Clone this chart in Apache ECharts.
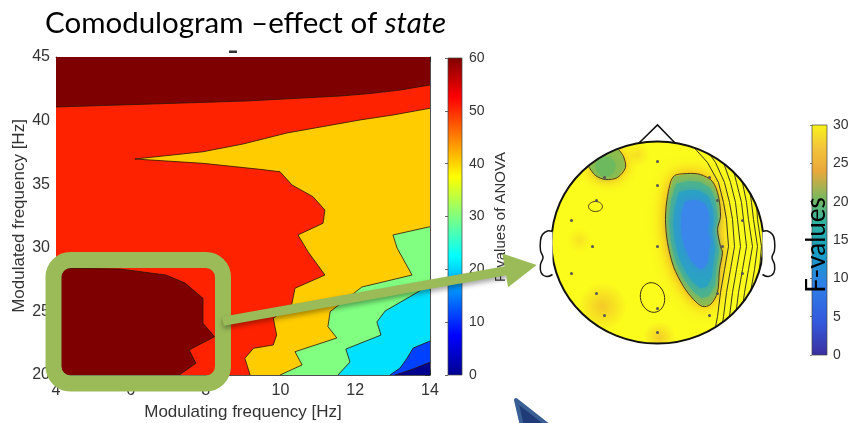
<!DOCTYPE html>
<html>
<head>
<meta charset="utf-8">
<script src="https://cdn.jsdelivr.net/npm/echarts@6/dist/echarts.min.js"></script>
<style>
html,body{margin:0;padding:0;background:#fff;}
#c{width:851px;height:423px;}
</style>
</head>
<body>
<div id="c"></div>
<script>
// ---- Comodulogram: contour boundaries, [modulating Hz, modulated Hz] ----
const xRange = [4, 14];
const yRange = [20, 45];
const f55Edge = [[4,41.07],[9.08,41.54],[11.59,41.93],[12.4,42.13],[13.2,42.4],[14,42.8]];
const f45Edge = [[14,40.97],[13.01,40.44],[12.13,40.05],[10.18,39.03],[9.0,38.16],[7.93,37.55],[6.11,36.98],
  [7.93,36.64],[9.45,36.17],[9.99,35.98],[10.31,34.94],[10.87,34.02],[11.19,32.97],[11.14,31.93],[10.47,31.01],
  [10.74,29.69],[11.19,27.86],[10.39,26.82],[10.3,25.5],[9.81,24.46],[9.9,23.14],[9.81,22.36],[9.28,22.1],
  [9.05,21.31],[9.19,20]];
const f35Edge = [[14,31.66],[13.01,31.01],[13.12,29.98],[13.52,27.86],[12.18,26.92],[11.33,24.98],[11.27,23.8],
  [11.51,22.91],[10.39,21.83],[10.58,20.79],[9.99,20]];
const f25Edge = [[14,27.23],[13.68,26.53],[12.8,25.03],[12.58,24.17],[12.69,23.14],[11.75,22.04],[11.86,21.02],[11.54,20]];
const f15Edge = [[14,22.67],[13.55,22.12],[13.39,21.34],[13.2,20.55],[12.93,20]];
const f5Edge = [[14,21.0],[13.47,20.39],[13.06,20]];
const f55LowEdge = [[4,28.41],[5.71,28.33],[6.94,27.86],[7.45,27.23],[7.93,26.03],[7.93,24.06],[8.24,23.01],
  [7.56,21.97],[7.74,20.92],[7.29,20]];

// colour-bar ranges
const anovaRange = [0, 60, 10];
const fRange = [0, 30, 5];

// ---- Topography: positions in pixels from the head centre (y downwards) ----
const headR = [106, 101];
const electrodes = [[0,-81],[-53,-65],[52,-65],[0,-57],[-61,-42],[60,-42],[-86,-22],[85,-22],[-65,4],[0,4],[65,4],
  [-86,31],[85,31],[-61,51],[60,51],[-53,73],[0,66],[52,73],[0,90]];
const blueBlob = [[16,-66],[30,-69],[43,-68],[55,-61],[61,-46],[63,-26],[60,-13],[63,4],[65,10],[62,27],[60,50],
  [53,62],[45,64],[36,57],[26,44],[16,24],[10,0],[8,-23],[10,-46]];
const greenBlob = [[-69,-76],[-62,-67],[-52,-63],[-40,-65],[-32,-75],[-34,-86],[-39,-93]];
const greenBlobEdge = [[-47,-90],[-55,-86],[-62,-81]];
const lineRows = [-100,-80,-60,-40,-23,4,27,50,74,95];
const isoLines = [
  [32,50,61,66,69,71,67,63,60,56],
  [44,58,67,72,75,77,73,69,66,63],
  [56,66,73,78,80,83,79,75,72,70],
  [68,74,79,84,86,89,85,81,78,77],
  [80,82,85,89,91,95,91,87,84,84],
  [92,90,91,94,96,100,97,93,90,91],
  [104,98,97,99,100,104,102,99,96,98]
];
const leftEar = [[-105,-11],[-110,-11.5],[-115,-8],[-117,-2],[-117,8],[-114.5,15],[-117,22],[-116.5,30],[-111,34],[-105,32]];
const nose = [[-19,-99],[0,-117.5],[18,-99]];

const LABEL_FONT = '"Liberation Sans", Arial, Helvetica, sans-serif';
const SLIDE_FONT = 'Lato, "Open Sans", sans-serif';
const AX = '#262626';

// filled contour bands, painted from low to high
const [X0, X1] = xRange, [Y0, Y1] = yRange;
const upperLeft = [[X0,Y0],[X0,Y1],[X1,Y1]];
const bands = [
  {color:'#00008f', pts:[[X0,Y0],[X1,Y0],[X1,Y1],[X0,Y1]]},
  {color:'#0040ff', pts:f5Edge.concat(upperLeft)},
  {color:'#00e0ff', pts:f15Edge.concat(upperLeft)},
  {color:'#80ff80', pts:f25Edge.concat(upperLeft)},
  {color:'#ffcc00', pts:f35Edge.concat(upperLeft)},
  {color:'#ff2200', pts:f45Edge.concat(upperLeft)},
  {color:'#7f0000', pts:f55Edge.concat([[X1,Y1],[X0,Y1]])},
  {color:'#7f0000', pts:f55LowEdge.concat([[X0,Y0]])}
];
const edges = [f5Edge, f15Edge, f25Edge, f35Edge, f45Edge, f55Edge, f55LowEdge];

function insideHead(p){ return (p[0]/headR[0])**2 + (p[1]/headR[1])**2 <= 1; }
function clipToHead(line){
  const parts = []; let cur = [];
  for (let i = 0; i < line.length; i++) {
    const p = line[i], inP = insideHead(p);
    if (i > 0) {
      const q = line[i-1], inQ = insideHead(q);
      if (inP !== inQ) {
        let a = q, b = p;
        for (let k = 0; k < 30; k++) {
          const m = [(a[0]+b[0])/2, (a[1]+b[1])/2];
          if (insideHead(m) === inQ) a = m; else b = m;
        }
        const x = [(a[0]+b[0])/2, (a[1]+b[1])/2];
        if (inQ) { cur.push(x); if (cur.length > 1) parts.push(cur); cur = []; }
        else cur = [x];
      }
    }
    if (inP) cur.push(p);
  }
  if (cur.length > 1) parts.push(cur);
  return parts;
}
function shrink(pts, c, k){ return pts.map(p => [c[0]+(p[0]-c[0])*k, c[1]+(p[1]-c[1])*k]); }
function radial(color, a){
  return {type:'radial', x:0.5, y:0.5, r:0.5, colorStops:[
    {offset:0, color:'rgba(' + color + ',' + a + ')'},
    {offset:1, color:'rgba(' + color + ',0)'}]};
}

function renderHead(params, api){
  const P = p => api.coord(p);
  const Ps = arr => arr.map(P);
  const c = P([0,0]);
  const kids = [];
  kids.push({type:'ellipse', shape:{cx:c[0], cy:c[1], rx:headR[0], ry:headR[1]}, style:{fill:'#fbfb1c'}});
  // soft orange patches
  [[[-55,64],24,0.55],[[2,95],16,0.5],[[-78,-2],12,0.25],[[-20,-88],12,0.3]].forEach(h => {
    const q = P(h[0]);
    kids.push({type:'circle', shape:{cx:q[0], cy:q[1], r:h[1]}, style:{fill:radial('238,160,50', h[2])}});
  });
  // frontal green spot
  kids.push({type:'polygon', shape:{points:Ps(greenBlob.concat(greenBlobEdge))},
    style:{fill:'#8fbd4c', shadowBlur:14, shadowColor:'rgba(240,140,35,0.95)'}});
  const g = P([-52,-76]);
  kids.push({type:'circle', shape:{cx:g[0], cy:g[1], r:10}, style:{fill:'#6cb95e', shadowBlur:10, shadowColor:'#6cb95e'}});
  // central low-F region
  const bc = [38,-6];
  kids.push({type:'polygon', shape:{points:Ps(blueBlob)},
    style:{fill:'#8cbb52', shadowBlur:16, shadowColor:'rgba(240,140,35,1)'}});
  kids.push({type:'polygon', shape:{points:Ps(shrink(blueBlob, bc, 0.88))},
    style:{fill:'#4db38c', shadowBlur:6, shadowColor:'#4db38c'}});
  kids.push({type:'polygon', shape:{points:Ps(shrink(blueBlob, bc, 0.74))},
    style:{fill:'#2aa2c2', shadowBlur:8, shadowColor:'#2aa2c2'}});
  kids.push({type:'polygon', shape:{points:Ps(shrink(blueBlob, [40,-14], 0.52))},
    style:{fill:'#3a86ea', shadowBlur:12, shadowColor:'#3a86ea'}});
  // white ring hides any glow outside the scalp
  kids.push({type:'ellipse', shape:{cx:c[0], cy:c[1], rx:headR[0]+7, ry:headR[1]+7},
    style:{fill:'none', stroke:'#fff', lineWidth:14}});
  // contour lines
  const line = {fill:'none', stroke:'#3a2a18', lineWidth:0.9};
  kids.push({type:'polygon', shape:{points:Ps(blueBlob), smooth:0.3}, style:line});
  kids.push({type:'polyline', shape:{points:Ps(greenBlob), smooth:0.3}, style:line});
  const e1 = P([-62,-36]), e2 = P([-5,55]);
  kids.push({type:'ellipse', shape:{cx:e1[0], cy:e1[1], rx:7, ry:5}, style:line});
  kids.push({type:'ellipse', shape:{cx:e2[0], cy:e2[1], rx:12, ry:15}, rotation:0.25, originX:e2[0], originY:e2[1], style:line});
  isoLines.forEach(xs => {
    clipToHead(xs.map((x, j) => [x, lineRows[j]])).forEach(seg => {
      kids.push({type:'polyline', shape:{points:Ps(seg)}, style:{fill:'none', stroke:'#222', lineWidth:0.9}});
    });
  });
  // outline, nose and ears
  kids.push({type:'ellipse', shape:{cx:c[0], cy:c[1], rx:headR[0], ry:headR[1]}, style:{fill:'none', stroke:'#111', lineWidth:2}});
  kids.push({type:'polyline', shape:{points:Ps(nose)}, style:{fill:'none', stroke:'#111', lineWidth:1.6}});
  kids.push({type:'polyline', shape:{points:Ps(leftEar), smooth:0.4}, style:{fill:'#fff', stroke:'#111', lineWidth:1.5}});
  kids.push({type:'polyline', shape:{points:Ps(leftEar.map(p => [-p[0], p[1]])), smooth:0.4}, style:{fill:'#fff', stroke:'#111', lineWidth:1.5}});
  return {type:'group', children:kids};
}

function colorBar(stops, top){
  return function(params, api){
    const a = api.coord([0, top]), b = api.coord([1, 0]);
    return {type:'rect', shape:{x:a[0], y:a[1], width:b[0]-a[0], height:b[1]-a[1]},
      style:{fill:{type:'linear', x:0, y:0, x2:0, y2:1, colorStops:stops}, stroke:'#444', lineWidth:0.7}};
  };
}
const jetStops = [
  {offset:0, color:'#800000'},{offset:0.125, color:'#ff0000'},{offset:0.375, color:'#ffff00'},
  {offset:0.625, color:'#00ffff'},{offset:0.875, color:'#0000ff'},{offset:1, color:'#00008f'}];
const fStops = [
  {offset:0, color:'#f7f31a'},{offset:0.1, color:'#f4c43c'},{offset:0.2, color:'#e9a83a'},
  {offset:0.32, color:'#7ab860'},{offset:0.42, color:'#33b2a0'},{offset:0.55, color:'#16a0c4'},
  {offset:0.7, color:'#2f7ee8'},{offset:0.86, color:'#3358dc'},{offset:1, color:'#3b2f9e'}];

const tickStyle = {show:true, inside:true, length:5, lineStyle:{color:AX, width:0.8}};
const lineStyle = {show:true, onZero:false, lineStyle:{color:AX, width:0.8}};
const labelStyle = {color:'#333', fontSize:16, fontFamily:LABEL_FONT};

const TITLE_SIZE = 29.5;
const ctx = document.createElement('canvas').getContext('2d');
ctx.font = TITLE_SIZE + 'px ' + SLIDE_FONT;
const titleHead = 'Comodulogram \u2013effect of ';
const titleW = ctx.measureText(titleHead).width;

const chart = echarts.init(document.getElementById('c'));
chart.setOption({
  animation: false,
  grid: [
    {left:56, top:57, width:374, height:318, outerBoundsMode:'none'},
    {left:448, top:58, width:14, height:317, outerBoundsMode:'none'},
    {left:812, top:125, width:15, height:230, outerBoundsMode:'none'},
    {left:551.5, top:141.5, width:212, height:202, outerBoundsMode:'none'}
  ],
  xAxis: [
    {gridIndex:0, type:'value', min:X0, max:X1, interval:2, position:'bottom', axisLine:lineStyle, axisTick:tickStyle,
     axisLabel:Object.assign({margin:8}, labelStyle), splitLine:{show:false},
     name:'Modulating frequency [Hz]', nameLocation:'middle', nameGap:29,
     nameTextStyle:{color:'#333', fontSize:17, fontFamily:LABEL_FONT}},
    {gridIndex:0, type:'value', min:X0, max:X1, interval:2, position:'top', axisLine:lineStyle, axisTick:tickStyle,
     axisLabel:{show:false}, splitLine:{show:false}},
    {gridIndex:1, type:'value', min:0, max:1, show:false},
    {gridIndex:2, type:'value', min:0, max:1, show:false},
    {gridIndex:3, type:'value', min:-headR[0], max:headR[0], show:false}
  ],
  yAxis: [
    {gridIndex:0, type:'value', min:Y0, max:Y1, interval:5, position:'left', axisLine:lineStyle, axisTick:tickStyle,
     axisLabel:Object.assign({margin:6}, labelStyle), splitLine:{show:false},
     name:'Modulated frequency [Hz]', nameLocation:'middle', nameGap:28, nameRotate:90,
     nameTextStyle:{color:'#333', fontSize:17, fontFamily:LABEL_FONT}},
    {gridIndex:0, type:'value', min:Y0, max:Y1, interval:5, position:'right', axisLine:lineStyle, axisTick:tickStyle,
     axisLabel:{show:false}, splitLine:{show:false}},
    {gridIndex:1, type:'value', min:anovaRange[0], max:anovaRange[1], interval:anovaRange[2], position:'right',
     axisLine:{show:false}, axisTick:{show:true, inside:true, length:3, lineStyle:{color:AX, width:0.7}},
     axisLabel:{color:'#333', fontSize:14, fontFamily:LABEL_FONT, margin:7}, splitLine:{show:false}},
    {gridIndex:2, type:'value', min:fRange[0], max:fRange[1], interval:fRange[2], position:'right',
     axisLine:{show:false}, axisTick:{show:true, inside:true, length:2, lineStyle:{color:'#555', width:0.7}},
     axisLabel:{color:'#333', fontSize:14, fontFamily:LABEL_FONT, margin:6}, splitLine:{show:false}},
    {gridIndex:3, type:'value', min:-headR[1], max:headR[1], inverse:true, show:false}
  ],
  series: [
    {type:'custom', xAxisIndex:0, yAxisIndex:0, silent:true, z:1,
     data: bands.map(() => [X0, Y0]),
     renderItem: (params, api) => {
       const b = bands[params.dataIndex];
       return {type:'polygon', shape:{points:b.pts.map(p => api.coord(p))}, style:{fill:b.color}};
     }},
    {type:'custom', xAxisIndex:0, yAxisIndex:0, silent:true, z:1,
     data: edges.map(() => [X0, Y0]),
     renderItem: (params, api) => ({type:'polyline',
       shape:{points:edges[params.dataIndex].map(p => api.coord(p))},
       style:{fill:'none', stroke:'#2a1408', lineWidth:0.8}})},
    {type:'custom', xAxisIndex:2, yAxisIndex:2, silent:true, data:[[0,0]], renderItem:colorBar(jetStops, anovaRange[1])},
    {type:'custom', xAxisIndex:3, yAxisIndex:3, silent:true, data:[[0,0]], renderItem:colorBar(fStops, fRange[1])},
    {type:'custom', xAxisIndex:4, yAxisIndex:4, silent:true, data:[[0,0]], renderItem:renderHead},
    {type:'scatter', xAxisIndex:4, yAxisIndex:4, silent:true, z:5, data:electrodes, symbolSize:3,
     itemStyle:{color:'#555', opacity:1}}
  ],
  graphic: [
    {type:'text', z:100, x:45, y:23, style:{text:titleHead, fontSize:TITLE_SIZE, fontFamily:SLIDE_FONT, fill:'#000', verticalAlign:'middle'}},
    {type:'text', z:100, x:45 + titleW, y:23, style:{text:'state', fontSize:TITLE_SIZE, fontFamily:SLIDE_FONT, fontStyle:'italic', fill:'#000', verticalAlign:'middle'}},
    {type:'rect', z:100, shape:{x:229, y:50.5, width:8, height:2.5}, style:{fill:'#333'}},
    {type:'text', z:100, x:501, y:217, rotation:Math.PI/2,
     style:{text:'F-values of ANOVA', fontSize:15, fontFamily:LABEL_FONT, fill:'#333', align:'center', verticalAlign:'middle'}},
    {type:'text', z:100, x:817, y:245, rotation:Math.PI/2,
     style:{text:'F-values', fontSize:26, fontFamily:SLIDE_FONT, fill:'#000', align:'center', verticalAlign:'middle'}},
    {type:'rect', z:100, shape:{x:53.5, y:260, width:169.5, height:123.5, r:17},
     style:{fill:'none', stroke:'#9bbb59', lineWidth:16}},
    {type:'line', z:100, shape:{x1:223, y1:321.2, x2:507, y2:270.5},
     style:{stroke:'#9bbb59', lineWidth:9, shadowBlur:5, shadowColor:'rgba(0,0,0,0.35)', shadowOffsetY:3}},
    {type:'polygon', z:101, shape:{points:[[536.7,265],[508.1,287.2],[502.3,253.6]]}, style:{fill:'#9bbb59'}},
    {type:'polygon', z:100, shape:{points:[[516,400],[522,426],[549,426]]},
     style:{fill:'#1f3c78', stroke:'#3a5f95', lineWidth:4, lineJoin:'round'}}
  ]
});
</script>
</body>
</html>
